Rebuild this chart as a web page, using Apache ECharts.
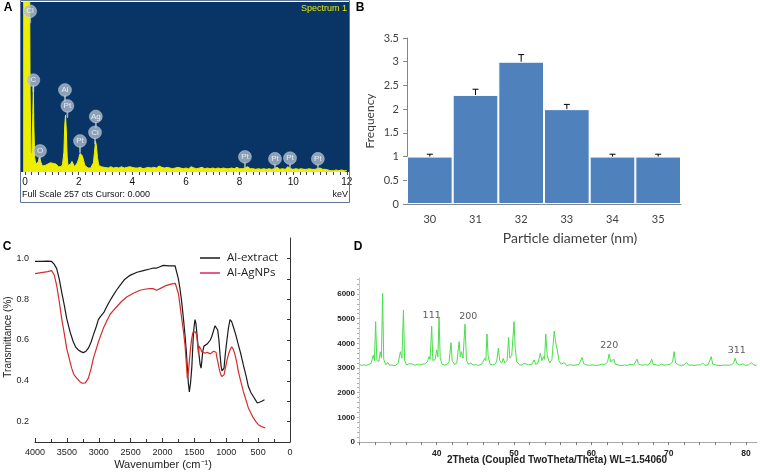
<!DOCTYPE html>
<html><head><meta charset="utf-8">
<script src="https://cdn.jsdelivr.net/npm/echarts@6/dist/echarts.min.js"></script>
<style>html,body{margin:0;padding:0;background:#fff}#c{width:760px;height:475px}</style>
</head><body><div id="c"></div>
<script>
// ---------- Panel A: EDS spectrum ----------
const edsSpectrum = [
 [-0.07,300],[0.17,300],[0.19,120],[0.22,30],[0.26,25],[0.29,90],[0.31,131],[0.33,70],[0.36,22],[0.4,12],
 [0.45,10],[0.5,16],[0.53,22],[0.56,24],[0.6,14],[0.65,9],[0.7,8],[0.75,10],[0.8,9],[0.85,12],
 [0.9,11],[0.95,14],[1.0,15],[1.05,13],[1.1,15],[1.15,12],[1.2,10],[1.25,8],[1.3,9],[1.35,8],
 [1.4,12],[1.45,30],[1.48,70],[1.51,86],[1.54,62],[1.57,24],[1.6,10],[1.65,9],[1.7,12],[1.75,16],
 [1.8,13],[1.85,8],[1.9,9],[1.95,14],[2.0,20],[2.05,28],[2.09,31],[2.13,25],[2.18,18],[2.23,10],
 [2.3,7],[2.35,6],[2.4,7],[2.45,6],[2.5,8],[2.55,14],[2.59,30],[2.63,46],[2.66,40],[2.7,22],
 [2.75,10],[2.8,7],[2.85,8],[2.9,6],[2.95,7],
 [3.0,7],[3.1,6],[3.2,8],[3.3,6],[3.4,7],[3.5,6],[3.6,8],[3.7,6],[3.8,7],[3.9,8],
 [4.0,7],[4.1,6],[4.2,6],[4.3,7],[4.4,5],[4.5,6],[4.6,7],[4.7,6],[4.8,7],[4.9,6],
 [5.0,9],[5.05,11],[5.1,7],[5.2,6],[5.3,7],[5.4,6],[5.5,5],[5.6,6],[5.7,7],[5.8,6],[5.9,5],
 [6.0,6],[6.1,5],[6.2,8],[6.3,6],[6.4,5],[6.5,6],[6.6,7],[6.7,5],[6.8,6],[6.9,5],
 [7.0,6],[7.1,5],[7.2,6],[7.3,5],[7.4,6],[7.5,5],[7.6,5],[7.7,6],[7.8,5],[7.9,7],
 [8.0,5],[8.1,5],[8.2,6],[8.3,8],[8.4,5],[8.5,5],[8.6,4],[8.7,5],[8.8,4],[8.9,5],
 [9.0,4],[9.1,5],[9.2,4],[9.3,5],[9.4,7],[9.5,4],[9.6,5],[9.7,4],[9.8,8],[9.9,5],
 [10.0,4],[10.1,5],[10.2,4],[10.3,5],[10.4,4],[10.5,4],[10.6,5],[10.7,4],[10.8,4],[10.9,5],
 [11.0,6],[11.1,4],[11.2,4],[11.3,3],[11.4,2],[11.5,2],[11.6,3],[11.7,2],[11.8,3],[11.9,2],[12.0,2]
];
const edsBadgeText   = ['Cl','C','O','Al','Pt','Pt','Ag','Cl','Pt','Pt','Pt','Pt'];
const edsBadgeKeV    = [0.19,0.31,0.56,1.49,1.58,2.05,2.64,2.61,8.2,9.32,9.88,10.92];
const edsBadgeCounts = [243,139,32,124,100,47,84,60,23,20,21,20];
const edsTickLabels  = [0,2,4,6,8,10,12];

// ---------- Panel B: size distribution ----------
const diameters    = ['30','31','32','33','34','35'];
const frequency    = [1, 2.3, 3, 2, 1, 1];
const frequencyErr = [0.05, 0.12, 0.15, 0.1, 0.05, 0.05];

// ---------- Panel C: FTIR ----------
const ftirExtract = [
 [4000,0.985],[3900,0.985],[3800,0.987],[3740,0.985],[3700,0.972],[3660,0.95],[3620,0.9],[3582,0.836],[3540,0.77],[3503,0.706],
 [3450,0.64],[3399,0.59],[3360,0.565],[3320,0.551],[3280,0.543],[3242,0.538],[3200,0.545],[3163,0.56],[3120,0.59],[3085,0.624],
 [3040,0.665],[3006,0.70],[2980,0.712],[2954,0.717],[2920,0.735],[2876,0.763],[2820,0.795],[2771,0.82],[2720,0.845],[2666,0.868],
 [2600,0.895],[2510,0.917],[2400,0.932],[2301,0.94],[2200,0.948],[2144,0.953],[2100,0.952],[2050,0.958],[1987,0.966],[1900,0.963],
 [1803,0.964],[1777,0.96],[1751,0.90],[1725,0.85],[1699,0.787],[1670,0.70],[1647,0.624],[1625,0.54],[1610,0.462],[1595,0.39],
 [1579,0.345],[1560,0.39],[1541,0.462],[1516,0.624],[1503,0.67],[1490,0.70],[1475,0.68],[1463,0.64],[1445,0.58],[1427,0.527],
 [1410,0.48],[1395,0.462],[1382,0.50],[1369,0.543],[1350,0.57],[1333,0.576],[1300,0.58],[1281,0.584],[1250,0.60],[1228,0.616],
 [1200,0.645],[1176,0.67],[1155,0.665],[1134,0.649],[1115,0.60],[1097,0.527],[1080,0.47],[1066,0.449],[1050,0.455],[1035,0.462],
 [1015,0.53],[993,0.59],[965,0.66],[941,0.70],[915,0.69],[889,0.665],[850,0.625],[810,0.576],[770,0.53],[732,0.478],
 [690,0.425],[653,0.372],[610,0.34],[575,0.323],[540,0.305],[512,0.291],[480,0.295],[443,0.30],[400,0.307]
];
const ftirAgNPs = [
 [4000,0.925],[3900,0.93],[3800,0.935],[3740,0.94],[3700,0.92],[3660,0.868],[3620,0.79],[3582,0.706],[3540,0.63],[3503,0.559],
 [3460,0.505],[3425,0.462],[3390,0.43],[3346,0.413],[3300,0.397],[3260,0.388],[3242,0.384],[3210,0.39],[3163,0.413],[3120,0.46],
 [3085,0.51],[3040,0.555],[3006,0.59],[2960,0.63],[2928,0.657],[2880,0.69],[2823,0.725],[2770,0.745],[2718,0.763],[2640,0.79],
 [2562,0.811],[2450,0.83],[2353,0.844],[2260,0.85],[2196,0.852],[2170,0.858],[2150,0.852],[2120,0.846],[2092,0.844],[2000,0.858],
 [1934,0.868],[1850,0.875],[1800,0.878],[1777,0.875],[1751,0.828],[1725,0.77],[1699,0.706],[1670,0.64],[1647,0.576],[1625,0.48],
 [1610,0.413],[1595,0.44],[1579,0.494],[1560,0.56],[1541,0.608],[1520,0.64],[1505,0.649],[1485,0.64],[1463,0.624],[1450,0.58],
 [1437,0.535],[1425,0.57],[1411,0.576],[1398,0.555],[1385,0.543],[1360,0.54],[1333,0.535],[1300,0.54],[1281,0.54],[1250,0.532],
 [1228,0.535],[1200,0.545],[1176,0.551],[1160,0.54],[1150,0.519],[1130,0.49],[1113,0.462],[1090,0.435],[1071,0.421],[1050,0.425],
 [1035,0.429],[1015,0.46],[993,0.494],[965,0.53],[941,0.551],[915,0.567],[890,0.555],[862,0.527],[835,0.49],[810,0.445],
 [770,0.395],[732,0.348],[690,0.305],[653,0.267],[610,0.24],[575,0.218],[535,0.2],[496,0.185],[450,0.176],[392,0.169]
];
const ftirLegend = ['Al-extract','Al-AgNPs'];

// ---------- Panel D: XRD ----------
const xrdPattern = [
 [30.0,3150],[30.3,3100],[30.6,3130],[30.9,3110],[31.2,3140],[31.5,3180],[31.8,3520],[31.95,3300],[32.1,4880],[32.25,3350],
 [32.5,3250],[32.7,3660],[32.85,3400],[33.0,6030],[33.15,3350],[33.4,3130],[33.7,3220],[33.9,3110],[34.2,3120],[34.6,3100],
 [35.0,3180],[35.3,3660],[35.5,3400],[35.7,5350],[35.85,3300],[36.1,3120],[36.4,3170],[36.6,3100],[36.9,3160],[37.2,3110],
 [37.5,3150],[37.8,3120],[38.1,3150],[38.5,3170],[38.8,3250],[39.0,3460],[39.15,3350],[39.35,4700],[39.5,3300],[39.8,3350],
 [40.0,3730],[40.15,3450],[40.3,5040],[40.45,3400],[40.7,3150],[41.0,3120],[41.4,3160],[41.6,3250],[41.85,4030],[42.0,3300],
 [42.3,3150],[42.6,3200],[42.9,4070],[43.05,3450],[43.2,3660],[43.4,3400],[43.66,4780],[43.85,3300],[44.1,3150],[44.4,3200],
 [44.7,3120],[45.0,3130],[45.4,3110],[45.8,3150],[46.0,3250],[46.2,3390],[46.35,3300],[46.5,4380],[46.65,3500],[46.9,3150],
 [47.2,3130],[47.5,3150],[47.75,3250],[47.97,3800],[48.15,3300],[48.4,3200],[48.6,3390],[48.8,3200],[49.1,3300],[49.3,4240],
 [49.45,3400],[49.7,3500],[50.0,4880],[50.15,3800],[50.35,3250],[50.7,3130],[51.0,3120],[51.3,3190],[51.5,3110],[51.9,3130],
 [52.3,3150],[52.6,3330],[52.8,3150],[53.1,3200],[53.4,3600],[53.6,3300],[53.8,3460],[53.95,3350],[54.1,4380],[54.3,3500],
 [54.6,3200],[54.9,3350],[55.2,4500],[55.4,4000],[55.6,3730],[55.8,3300],[56.1,3150],[56.5,3220],[56.8,3100],[57.2,3130],
 [57.6,3110],[58.0,3120],[58.4,3140],[58.8,3430],[59.0,3180],[59.4,3120],[59.8,3110],[60.2,3130],[60.6,3100],[61.0,3120],
 [61.3,3150],[61.5,3200],[61.8,3150],[62.1,3250],[62.3,3570],[62.5,3250],[62.7,3200],[62.9,3360],[63.1,3150],[63.5,3120],
 [63.9,3100],[64.3,3120],[64.7,3110],[65.0,3150],[65.2,3220],[65.5,3120],[65.9,3360],[66.1,3160],[66.5,3110],[66.9,3130],
 [67.3,3120],[67.6,3200],[67.8,3360],[68.0,3150],[68.4,3120],[68.8,3110],[69.1,3160],[69.4,3110],[69.8,3130],[70.2,3150],
 [70.5,3250],[70.7,3660],[70.9,3200],[71.3,3120],[71.7,3110],[72.0,3130],[72.3,3220],[72.6,3110],[73.0,3120],[73.4,3100],
 [73.8,3130],[74.1,3120],[74.4,3200],[74.7,3110],[75.1,3130],[75.5,3460],[75.7,3150],[76.1,3120],[76.5,3100],[76.9,3110],
 [77.3,3120],[77.7,3110],[78.1,3130],[78.4,3200],[78.6,3400],[78.8,3180],[79.2,3120],[79.6,3170],[79.9,3110],[80.3,3120],
 [80.7,3220],[81.0,3120],[81.4,3110]
];
const xrdPlanes      = ['111','200','220','311'];
const xrdPlaneTheta  = [39.35, 44.09, 62.32, 78.8];
const xrdPlaneCounts = [5120, 5107, 3891, 3700];
const xrdThetaLabels = [40,50,60,70,80];
const xrdCountLabels = [0,1000,2000,3000,4000,5000,6000];

// ---------- helpers ----------
const aTicks = []; for (let v = 0; v <= 12.001; v += 0.25) aTicks.push(+v.toFixed(2));
const dXTicks = []; for (let v = 30; v <= 81; v += 2) dXTicks.push(v);
const dYTicks = []; for (let v = 0; v <= 6600; v += 200) dYTicks.push(v);
const plain = v => String(Math.round(v));

const badgePath = 'path://M10,0 A10,10 0 1 1 9.99,0 Z M9.2,19 L10.8,19 L10.8,28 L9.2,28 Z';
const SANS = 'Liberation Sans, Arial, sans-serif';

const chart = echarts.init(document.getElementById('c'), null, {renderer:'canvas'});
const option = {
  animation: false,
  backgroundColor: '#fff',
  textStyle: {fontFamily: SANS},
  grid: [
    {left:21, top:2, width:328, height:170, show:true, backgroundColor:'#083466', borderWidth:0},
    {left:407, top:38, width:274, height:166},
    {left:35, top:238, width:255, height:204},
    {left:359, top:278, width:398, height:167}
  ],
  xAxis: [
    {gridIndex:0, type:'value', min:-0.15, max:12.08,
     axisLine:{show:false},
     axisTick:{show:true, customValues:aTicks, length:3, lineStyle:{color:'#444'}},
     axisLabel:{customValues:edsTickLabels, fontSize:10, color:'#111', margin:5, fontFamily:SANS, formatter:plain},
     splitLine:{show:false}},
    {gridIndex:1, type:'category', data:diameters,
     axisLine:{lineStyle:{color:'#868686'}},
     axisTick:{length:5, lineStyle:{color:'#868686'}},
     axisLabel:{fontSize:11, color:'#404040', margin:10, fontFamily:'Lato'}},
    {gridIndex:2, type:'value', min:0, max:4000, inverse:true, interval:500,
     axisLine:{lineStyle:{color:'#333'}},
     axisTick:{inside:true, length:4, lineStyle:{color:'#333'}},
     minorTick:{show:true, splitNumber:2, length:3, lineStyle:{color:'#333'}},
     axisLabel:{fontSize:9, color:'#222', margin:6, fontFamily:SANS, formatter:plain},
     splitLine:{show:false}},
    {gridIndex:3, type:'value', min:29.95, max:81.42,
     axisLine:{lineStyle:{color:'#aaa'}},
     axisTick:{show:true, customValues:dXTicks, length:3, lineStyle:{color:'#777'}},
     axisLabel:{customValues:xrdThetaLabels, fontSize:8.5, fontWeight:'bold', color:'#222', margin:4, fontFamily:SANS, formatter:plain},
     splitLine:{show:false}}
  ],
  yAxis: [
    {gridIndex:0, type:'value', min:0, max:257, show:false},
    {gridIndex:1, type:'value', min:0, max:3.5, interval:0.5,
     axisLine:{show:true, lineStyle:{color:'#868686'}},
     axisTick:{show:true, length:4, lineStyle:{color:'#868686'}},
     axisLabel:{fontSize:11, color:'#404040', margin:8, fontFamily:'Lato'},
     splitLine:{show:false}},
    {gridIndex:2, type:'value', min:0.1, max:1.1, interval:0.1,
     axisLine:{show:true, lineStyle:{color:'#333'}},
     axisTick:{show:true, length:3, lineStyle:{color:'#333'}},
     axisLabel:{fontSize:9, color:'#222', margin:6, fontFamily:SANS, showMaxLabel:false,
       formatter: v => { const k = Math.round(v*10); return (k%2===0 && k>=2 && k<=10) ? (k/10).toFixed(1) : ''; }},
     splitLine:{show:false}},
    {gridIndex:3, type:'value', min:-122, max:6649,
     axisLine:{show:true, lineStyle:{color:'#bbb', type:'dotted'}},
     axisTick:{show:true, customValues:dYTicks, length:2, lineStyle:{color:'#aaa'}},
     axisLabel:{customValues:xrdCountLabels, fontSize:8, fontWeight:'bold', color:'#222', margin:4, fontFamily:SANS, formatter:plain},
     splitLine:{show:false}}
  ],
  series: [
    {type:'line', xAxisIndex:0, yAxisIndex:0, data:edsSpectrum, symbol:'none', z:2,
     lineStyle:{color:'#eeee00', width:1}, areaStyle:{color:'#eeee00', opacity:1}},
    {type:'scatter', xAxisIndex:0, yAxisIndex:0, z:5,
     data: edsBadgeKeV.map((k,i)=>[k, edsBadgeCounts[i], edsBadgeText[i]]),
     symbol: badgePath, symbolSize:[13,18], symbolOffset:[0,2.6],
     itemStyle:{color:'#aebbcc', borderColor:'#d8e0ea', borderWidth:0.5},
     label:{show:true, position:'inside', offset:[0,-2.6], formatter:p=>p.data[2], color:'#fff', fontSize:8, fontFamily:SANS}},
    {type:'bar', xAxisIndex:1, yAxisIndex:1, data:frequency, barCategoryGap:'0%',
     itemStyle:{color:'#4f81bd', borderColor:'#ffffff', borderWidth:1}},
    {type:'custom', xAxisIndex:1, yAxisIndex:1, z:5,
     data: frequency.map((v,i)=>[i, v, v+frequencyErr[i]]),
     renderItem:(params, api)=>{
       const b = api.coord([api.value(0), api.value(1)]);
       const t = api.coord([api.value(0), api.value(2)]);
       return {type:'group', children:[
         {type:'line', shape:{x1:b[0], y1:b[1], x2:t[0], y2:t[1]}, style:{stroke:'#000', lineWidth:1}},
         {type:'line', shape:{x1:t[0]-3, y1:t[1], x2:t[0]+3, y2:t[1]}, style:{stroke:'#000', lineWidth:1}}
       ]};
     }},
    {type:'line', name:ftirLegend[0], xAxisIndex:2, yAxisIndex:2, data:ftirExtract, symbol:'none',
     lineStyle:{color:'#1a1a1a', width:1.2}},
    {type:'line', name:ftirLegend[1], xAxisIndex:2, yAxisIndex:2, data:ftirAgNPs, symbol:'none',
     lineStyle:{color:'#d42b2b', width:1.2}},
    {type:'line', xAxisIndex:3, yAxisIndex:3, data:xrdPattern, symbol:'none',
     lineStyle:{color:'#4ade4a', width:1}},
    {type:'scatter', xAxisIndex:3, yAxisIndex:3, symbolSize:0,
     data: xrdPlaneTheta.map((t,i)=>[t, xrdPlaneCounts[i], xrdPlanes[i]]),
     label:{show:true, position:'inside', formatter:p=>p.data[2], color:'#333', fontSize:9.5, fontFamily:'DejaVu Sans'}}
  ],
  graphic: [
    {type:'rect', shape:{x:20.5, y:0.5, width:329, height:202}, style:{fill:'none', stroke:'#5d7597', lineWidth:1}, z:10},
    {type:'text', x:347, y:9, style:{text:'Spectrum 1', fill:'#e8e800', font:'9px '+SANS, align:'right', verticalAlign:'middle'}, z:10},
    {type:'text', x:22, y:195, style:{text:'Full Scale 257 cts Cursor: 0.000', fill:'#111', font:'9px '+SANS, align:'left', verticalAlign:'middle'}},
    {type:'text', x:348, y:195, style:{text:'keV', fill:'#111', font:'9px '+SANS, align:'right', verticalAlign:'middle'}},
    {type:'text', x:8, y:8, style:{text:'A', fill:'#000', font:'bold 12px '+SANS, align:'center', verticalAlign:'middle'}},
    {type:'text', x:360, y:8, style:{text:'B', fill:'#000', font:'bold 12px '+SANS, align:'center', verticalAlign:'middle'}},
    {type:'text', x:7, y:247, style:{text:'C', fill:'#000', font:'bold 12px '+SANS, align:'center', verticalAlign:'middle'}},
    {type:'text', x:358, y:247, style:{text:'D', fill:'#000', font:'bold 12px '+SANS, align:'center', verticalAlign:'middle'}},
    {type:'text', x:370, y:121, rotation:Math.PI/2, style:{text:'Frequency', fill:'#404040', font:'12px Lato', align:'center', verticalAlign:'middle'}},
    {type:'text', x:570, y:238, style:{text:'Particle diameter (nm)', fill:'#404040', font:'14px Lato', align:'center', verticalAlign:'middle'}},
    {type:'text', x:8, y:337, rotation:Math.PI/2, style:{text:'Transmittance (%)', fill:'#222', font:'10px '+SANS, align:'center', verticalAlign:'middle'}},
    {type:'text', x:163, y:465, style:{text:'Wavenumber (cm\u207B\u00B9)', fill:'#222', font:'11px '+SANS, align:'center', verticalAlign:'middle'}},
    {type:'line', shape:{x1:200, y1:258, x2:220, y2:258}, style:{stroke:'#1a1a1a', lineWidth:1.5}},
    {type:'line', shape:{x1:200, y1:273, x2:220, y2:273}, style:{stroke:'#e0245e', lineWidth:1.5}},
    {type:'text', x:227, y:258, style:{text:ftirLegend[0], fill:'#222', font:'11.5px Open Sans', align:'left', verticalAlign:'middle'}},
    {type:'text', x:227, y:273, style:{text:ftirLegend[1], fill:'#222', font:'11.5px Open Sans', align:'left', verticalAlign:'middle'}},
    {type:'text', x:557, y:460, style:{text:'2Theta (Coupled TwoTheta/Theta) WL=1.54060', fill:'#222', font:'bold 10px '+SANS, align:'center', verticalAlign:'middle'}}
  ]
};
chart.setOption(option);
</script></body></html>
